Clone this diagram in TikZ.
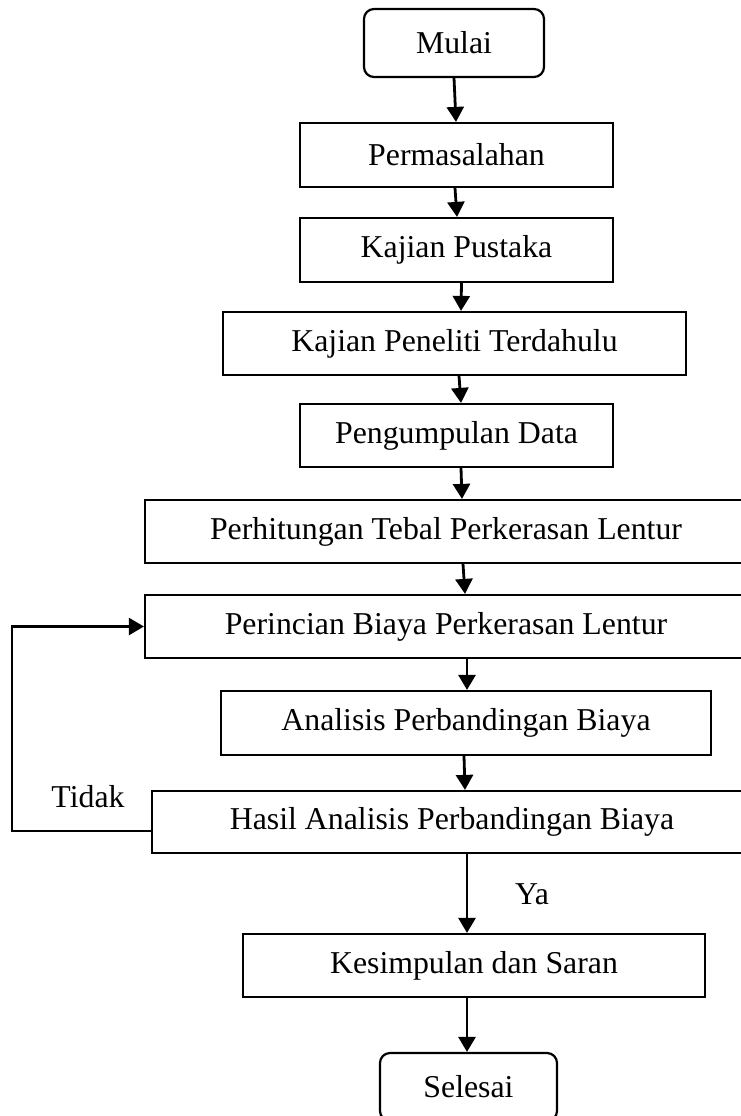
\documentclass[tikz,border=0pt]{standalone}
\usepackage{fontspec}
\setmainfont{Liberation Serif}
\usetikzlibrary{arrows.meta}
\tikzset{
  txt/.style={font=\fontsize{31.8}{38}\selectfont, inner sep=0pt},
  procbox/.style={txt, draw, line width=2.2pt, rectangle},
  termbox/.style={txt, draw, line width=2.2pt, rectangle, rounded corners=10pt},
  arr/.style={line width=2.8pt, -{Triangle[length=15pt,width=17pt]}},
  loopline/.style={line width=2.3pt, -{Triangle[length=15pt,width=17pt]}}
}
\begin{document}
\begin{tikzpicture}[x=1pt,y=-1pt]
\useasboundingbox (0,0) rectangle (741,1116);
\clip (0,0) rectangle (741,1116);
\fill[white] (0,0) rectangle (741,1116);

\node[termbox, minimum width=180pt, minimum height=68pt] (mulai) at (454,43) {Mulai};
\node[procbox, minimum width=313pt, minimum height=64pt] (perm) at (456.5,155) {Permasalahan};
\node[procbox, minimum width=313pt, minimum height=64pt] (pustaka) at (456.5,250) {Kajian Pustaka};
\node[procbox, minimum width=463pt, minimum height=63pt] (peneliti) at (454.5,343.5) {Kajian Peneliti Terdahulu};
\node[procbox, minimum width=313pt, minimum height=63pt] (data) at (456.5,435.5) {Pengumpulan Data};
\node[procbox, minimum width=602pt, minimum height=63pt] (hitung) at (446,531.5) {Perhitungan Tebal Perkerasan Lentur};
\node[procbox, minimum width=602pt, minimum height=63pt] (rinci) at (446,626.5) {Perincian Biaya Perkerasan Lentur};
\node[procbox, minimum width=490pt, minimum height=64pt] (analisis) at (466,723) {Analisis Perbandingan Biaya};
\node[procbox, minimum width=600pt, minimum height=62pt] (hasil) at (452,822) {Hasil Analisis Perbandingan Biaya};
\node[procbox, minimum width=462pt, minimum height=63pt] (simpul) at (474,965.5) {Kesimpulan dan Saran};
\node[termbox, minimum width=177pt, minimum height=68pt] (selesai) at (468.5,1087) {Selesai};

\node[txt] (tidak) at (88,797) {Tidak};
\node[txt] (ya) at (532,894) {Ya};

\coordinate (loopc) at (12,831);

\draw[arr] (mulai.south) -- ([xshift=-0.5pt]perm.north);
\draw[arr] ([xshift=-1.5pt]perm.south) -- ([xshift=0.5pt]pustaka.north);
\draw[arr] ([xshift=5pt]pustaka.south) -- ([xshift=6.5pt]peneliti.north);
\draw[arr] ([xshift=4.5pt]peneliti.south) -- ([xshift=4.5pt]data.north);
\draw[arr] ([xshift=4.5pt]data.south) -- ([xshift=16pt]hitung.north);
\draw[arr] ([xshift=17pt]hitung.south) -- ([xshift=19pt]rinci.north);
\draw[arr] ([xshift=21pt]rinci.south) -- ([xshift=1pt]analisis.north);
\draw[arr] ([xshift=-2pt]analisis.south) -- ([xshift=13pt]hasil.north);
\draw[arr] ([xshift=15pt]hasil.south) -- ([xshift=-7pt]simpul.north);
\draw[arr] ([xshift=-7pt]simpul.south) -- ([xshift=-1.5pt]selesai.north);
\draw[loopline] ([yshift=-9pt]hasil.west) -- (loopc) |- (rinci.west);
\end{tikzpicture}
\end{document}
